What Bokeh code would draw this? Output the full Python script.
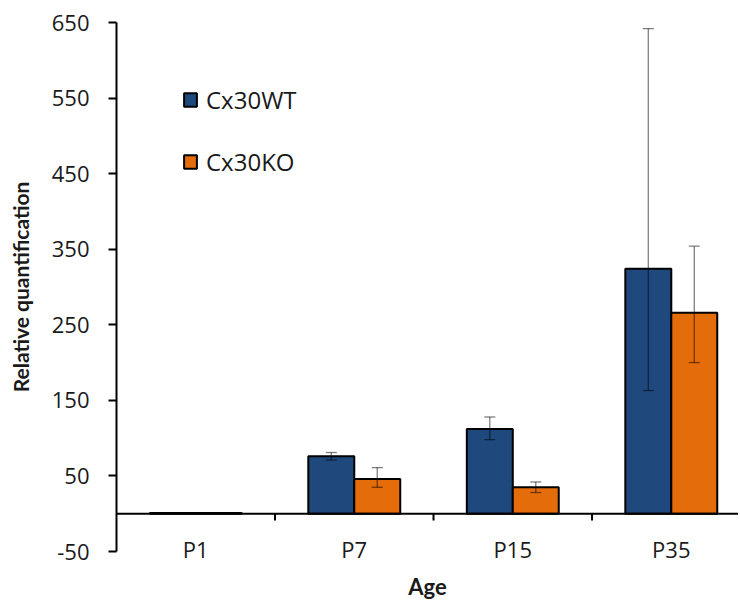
import numpy as np
from bokeh.plotting import figure
from bokeh.models import (Range1d, ColumnDataSource, Whisker, TeeHead, Span,
                          FixedTicker, Legend, LegendItem)
from bokeh.embed import file_html
from bokeh.resources import INLINE

# ---- data ----
categories = ["P1", "P7", "P15", "P35"]
wt_values = [1, 76, 112, 324]
wt_err_up = [0, 5, 16, 318]
wt_err_down = [0, 5, 14, 161]
ko_values = [1, 46, 35, 266]
ko_err_up = [0, 15, 7, 88]
ko_err_down = [0, 11, 7, 66]
y_ticks = [-50, 50, 150, 250, 350, 450, 550, 650]

WT_COLOR = "#1F497D"
KO_COLOR = "#E46C0A"

n = len(categories)
centers = np.arange(n) + 0.5
bar_w = 0.29
x_wt = centers - bar_w / 2
x_ko = centers + bar_w / 2

p = figure(width=738, height=603, output_backend="svg", toolbar_location=None,
           x_range=Range1d(0, 3.924), y_range=Range1d(-50, 650),
           min_border_left=116, min_border_right=0, min_border_top=22,
           min_border_bottom=52)
p.outline_line_color = None
p.xgrid.visible = False
p.ygrid.visible = False
p.background_fill_color = "white"

src_wt = ColumnDataSource(dict(x=x_wt, top=wt_values,
                               upper=np.array(wt_values) + np.array(wt_err_up),
                               lower=np.array(wt_values) - np.array(wt_err_down)))
src_ko = ColumnDataSource(dict(x=x_ko, top=ko_values,
                               upper=np.array(ko_values) + np.array(ko_err_up),
                               lower=np.array(ko_values) - np.array(ko_err_down)))

r_wt = p.vbar(x="x", top="top", bottom=0, width=bar_w, source=src_wt,
              fill_color=WT_COLOR, line_color="black", line_width=2)
r_ko = p.vbar(x="x", top="top", bottom=0, width=bar_w, source=src_ko,
              fill_color=KO_COLOR, line_color="black", line_width=2)

for src in (src_wt, src_ko):
    w = Whisker(base="x", upper="upper", lower="lower", source=src, level="annotation",
                line_color="black", line_alpha=0.5, line_width=1.3,
                upper_head=TeeHead(size=11, line_color="black", line_alpha=0.5, line_width=1.3),
                lower_head=TeeHead(size=11, line_color="black", line_alpha=0.5, line_width=1.3))
    p.add_layout(w)

# baseline at zero
p.add_layout(Span(location=0, dimension="width", line_color="black", line_width=2))
# category separator ticks
bounds = np.arange(1, n)
p.segment(x0=bounds, x1=bounds, y0=np.zeros(len(bounds)), y1=np.full(len(bounds), -9),
          line_color="black", line_width=2)

# y axis
yax = p.yaxis[0]
yax.ticker = FixedTicker(ticks=y_ticks)
yax.major_label_overrides = {t: str(t) for t in y_ticks}
yax.minor_tick_line_color = None
yax.major_tick_in = 0
yax.major_tick_out = 8
yax.major_tick_line_width = 2
yax.axis_line_width = 2
yax.axis_line_color = "black"
yax.major_tick_line_color = "black"
yax.major_label_text_font = "Open Sans"
yax.major_label_text_font_size = "22px"
yax.major_label_text_color = "#1a1a1a"
yax.major_label_standoff = 19
yax.axis_label = "Relative quantification"
yax.axis_label_text_font = "Lato"
yax.axis_label_text_font_style = "bold"
yax.axis_label_text_font_size = "21px"
yax.axis_label_text_color = "#1a1a1a"
yax.axis_label_standoff = 16

# x axis (labels only)
xax = p.xaxis[0]
xax.ticker = FixedTicker(ticks=list(centers))
xax.major_label_overrides = {float(c): lab for c, lab in zip(centers, categories)}
xax.axis_line_color = None
xax.major_tick_line_color = None
xax.minor_tick_line_color = None
xax.major_tick_in = 0
xax.major_tick_out = 0
xax.major_label_standoff = -18
xax.major_label_text_font = "Open Sans"
xax.major_label_text_font_size = "22px"
xax.major_label_text_color = "#1a1a1a"
xax.axis_label = "Age"
xax.axis_label_text_font = "Lato"
xax.axis_label_text_font_style = "bold"
xax.axis_label_text_font_size = "22px"
xax.axis_label_text_color = "#1a1a1a"
xax.axis_label_standoff = 6

legend = Legend(items=[LegendItem(label="Cx30WT", renderers=[r_wt]),
                       LegendItem(label="Cx30KO", renderers=[r_ko])],
                location=(66, 373), orientation="vertical",
                glyph_width=16, glyph_height=17, label_height=20,
                spacing=29, padding=0, margin=0, label_standoff=8,
                border_line_color=None, background_fill_alpha=0,
                label_text_font="Open Sans", label_text_font_size="24px",
                label_text_color="#1a1a1a")
p.add_layout(legend)

open("out.html", "w").write(file_html(p, INLINE))
